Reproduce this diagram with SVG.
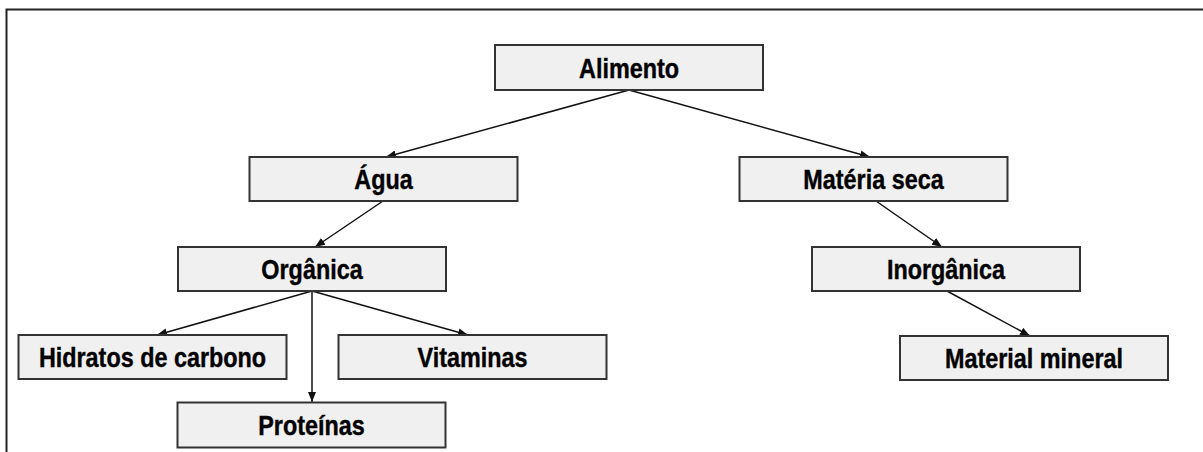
<svg xmlns="http://www.w3.org/2000/svg" width="1203" height="452" viewBox="0 0 1203 452">
<style>
.box{fill:#f0f0f0;stroke:#333;stroke-width:2}
.lbl{font-family:"Liberation Sans",Arial,sans-serif;font-weight:bold;font-size:28px;fill:#000;stroke:#000;stroke-width:0.4;text-anchor:middle}
.edge{stroke:#111;stroke-width:1.5;fill:none;marker-end:url(#arr)}
</style>
<defs>
<marker id="arr" markerUnits="userSpaceOnUse" markerWidth="10" markerHeight="8" refX="10" refY="4" orient="auto">
<path d="M0,0 L10,4 L0,8 z" fill="#111"/>
</marker>
</defs>
<rect width="1203" height="452" fill="#fff"/>
<path d="M6.5,452 V9.5 H1203" fill="none" stroke="#222" stroke-width="2"/>
<g id="connectors">
<line class="edge" x1="629" y1="90" x2="386" y2="157"/>
<line class="edge" x1="629" y1="90" x2="870" y2="157"/>
<line class="edge" x1="383" y1="201" x2="315" y2="247"/>
<line class="edge" x1="876" y1="201" x2="942" y2="247"/>
<line class="edge" x1="312" y1="291" x2="157" y2="335"/>
<line class="edge" x1="312" y1="291" x2="312" y2="402"/>
<line class="edge" x1="312" y1="291" x2="468" y2="335"/>
<line class="edge" x1="947" y1="291" x2="1030" y2="336"/>
</g>
<g id="alimento"><rect class="box" x="495" y="45" width="268" height="45"/><text class="lbl" transform="translate(629,77.5) scale(0.835,1)">Alimento</text></g>
<g id="agua"><rect class="box" x="249.5" y="157" width="268" height="44"/><text class="lbl" transform="translate(383.5,189) scale(0.835,1)">Água</text></g>
<g id="materia-seca"><rect class="box" x="739.5" y="157" width="268" height="44"/><text class="lbl" transform="translate(873.5,189) scale(0.835,1)">Matéria seca</text></g>
<g id="organica"><rect class="box" x="178" y="247" width="268" height="44"/><text class="lbl" transform="translate(312,279) scale(0.835,1)">Orgânica</text></g>
<g id="inorganica"><rect class="box" x="812" y="247" width="268" height="44"/><text class="lbl" transform="translate(946,279) scale(0.835,1)">Inorgânica</text></g>
<g id="hidratos"><rect class="box" x="18.5" y="335" width="268" height="44"/><text class="lbl" transform="translate(152.5,367) scale(0.835,1)">Hidratos de carbono</text></g>
<g id="vitaminas"><rect class="box" x="338.5" y="335" width="268" height="44"/><text class="lbl" transform="translate(472.5,367) scale(0.835,1)">Vitaminas</text></g>
<g id="material-mineral"><rect class="box" x="900" y="336" width="268" height="44"/><text class="lbl" transform="translate(1034,368) scale(0.835,1)">Material mineral</text></g>
<g id="proteinas"><rect class="box" x="177.5" y="402.5" width="268" height="45"/><text class="lbl" transform="translate(311.5,435) scale(0.835,1)">Proteínas</text></g>
</svg>
